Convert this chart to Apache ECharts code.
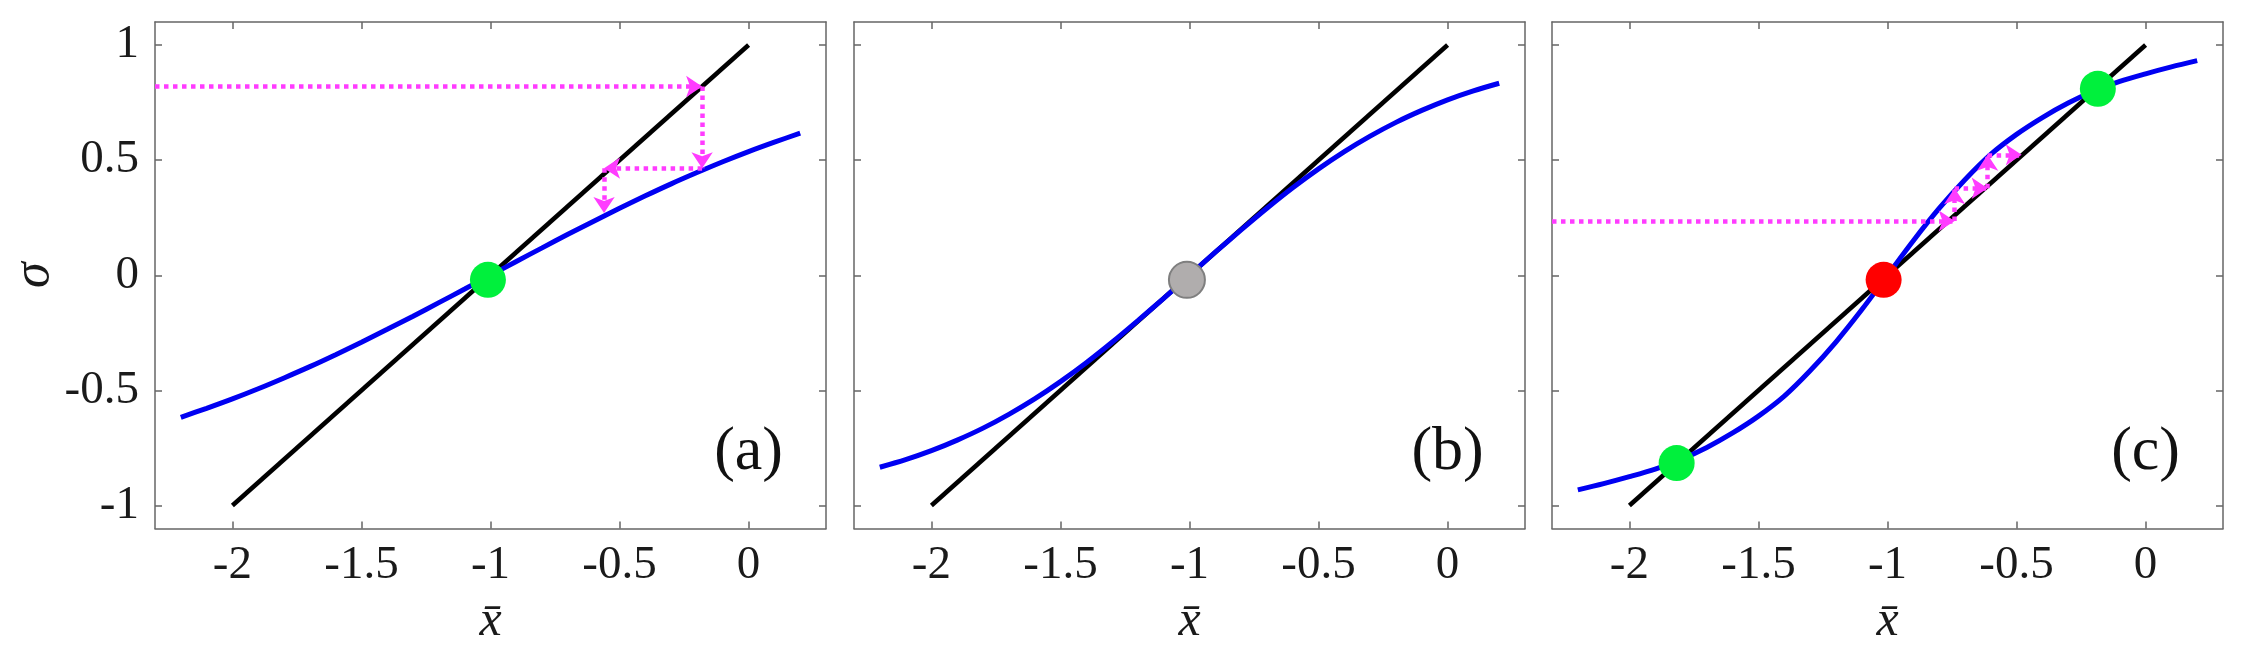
<!DOCTYPE html>
<html>
<head>
<meta charset="utf-8">
<script src="https://cdn.jsdelivr.net/npm/echarts@6/dist/echarts.min.js"></script>
<style>
html, body { margin: 0; padding: 0; background: #fff; }
#chart { width: 2250px; height: 666px; }
</style>
</head>
<body>
<div id="chart"></div>
<script>
// x-bar samples shared by the three sigmoid curves
const xBar = [-2.2, -2.1, -2.0, -1.9, -1.8, -1.7, -1.6, -1.5, -1.4, -1.3, -1.2, -1.1, -1.0,
  -0.9, -0.8, -0.7, -0.6, -0.5, -0.4, -0.3, -0.2, -0.1, 0.0, 0.1, 0.2];
// sigma, panels (a) (b) (c)
const sigmaA = [-0.617, -0.578, -0.537, -0.493, -0.446, -0.397, -0.345, -0.291, -0.235, -0.178, -0.119, -0.060, 0,
  0.060, 0.119, 0.178, 0.235, 0.291, 0.345, 0.397, 0.446, 0.493, 0.537, 0.578, 0.617];
const sigmaB = [-0.834, -0.801, -0.762, -0.716, -0.664, -0.604, -0.537, -0.462, -0.380, -0.291, -0.197, -0.100, 0,
  0.100, 0.197, 0.291, 0.380, 0.462, 0.537, 0.604, 0.664, 0.716, 0.762, 0.801, 0.834];
const sigmaC = [-0.932, -0.905, -0.875, -0.842, -0.800, -0.748, -0.685, -0.612, -0.525, -0.415, -0.290, -0.150, 0,
  0.150, 0.290, 0.415, 0.525, 0.612, 0.685, 0.748, 0.800, 0.842, 0.875, 0.905, 0.932];
// the diagonal sigma = x + 1
const diagX = [-2, 0];
const diagY = [-1, 1];

const xTicks = [-2, -1.5, -1, -0.5, 0];
const yTicks = [-1, -0.5, 0, 0.5, 1];
const panelNames = ['(a)', '(b)', '(c)'];

// fixed points [x, sigma]
const stableA = [[-1.01, -0.02]];
const marginalB = [[-1.01, -0.02]];
const stableC = [[-1.817, -0.816], [-0.185, 0.81]];
const unstableC = [[-1.015, -0.02]];

// cobweb iterations (corners of the dotted path)
const cobwebA = [[-2.3, 0.82], [-0.18, 0.82], [-0.18, 0.465], [-0.56, 0.465], [-0.56, 0.27]];
const cobwebC = [[-2.3, 0.236], [-0.74, 0.236], [-0.74, 0.378], [-0.612, 0.378], [-0.612, 0.523], [-0.48, 0.523]];

const serif = "'Liberation Serif', serif";
const axisColor = '#666';
const gridLeft = [155, 854, 1552];

function xAxisFor(i, pos) {
  return {
    type: 'value', gridIndex: i, position: pos, min: -2.3, max: 0.3,
    axisLine: { show: true, onZero: false, lineStyle: { color: axisColor, width: 1.5 } },
    axisTick: { show: true, inside: true, length: 7, customValues: xTicks, lineStyle: { color: axisColor, width: 1.5 } },
    axisLabel: { show: pos === 'bottom', customValues: xTicks, margin: 14,
      fontFamily: serif, fontSize: 47, color: '#1a1a1a' },
    splitLine: { show: false },
    name: pos === 'bottom' ? 'x\u0304' : '',
    nameLocation: 'middle', nameGap: 68,
    nameTextStyle: { fontFamily: serif, fontStyle: 'italic', fontSize: 50, color: '#1a1a1a' }
  };
}

function yAxisFor(i, pos) {
  const labelled = (i === 0 && pos === 'left');
  return {
    type: 'value', gridIndex: i, position: pos, min: -1.1, max: 1.1,
    axisLine: { show: true, onZero: false, lineStyle: { color: axisColor, width: 1.5 } },
    axisTick: { show: true, inside: true, length: 7, customValues: yTicks, lineStyle: { color: axisColor, width: 1.5 } },
    axisLabel: { show: labelled, customValues: yTicks, margin: 16,
      fontFamily: serif, fontSize: 47, color: '#1a1a1a' },
    splitLine: { show: false },
    name: labelled ? '\u03c3' : '',
    nameLocation: 'middle', nameGap: 93,
    nameTextStyle: { fontFamily: serif, fontStyle: 'italic', fontSize: 52, color: '#1a1a1a' }
  };
}

function pairs(xs, ys) {
  return xs.map((x, k) => [x, ys[k]]);
}

function segments(path) {
  const out = [];
  for (let k = 0; k < path.length - 1; k++) {
    out.push({ coords: [path[k], path[k + 1]] });
  }
  return out;
}

const grids = [], xAxes = [], yAxes = [], series = [];
const curves = [sigmaA, sigmaB, sigmaC];

for (let i = 0; i < 3; i++) {
  grids.push({ left: gridLeft[i], top: 22, width: 671, height: 506.5 });
  xAxes.push(xAxisFor(i, 'bottom'), xAxisFor(i, 'top'));
  yAxes.push(yAxisFor(i, 'left'), yAxisFor(i, 'right'));

  series.push({
    type: 'line', xAxisIndex: 2 * i, yAxisIndex: 2 * i,
    data: pairs(diagX, diagY), showSymbol: false, silent: true,
    lineStyle: { color: '#000', width: 4.5 }, z: 2
  });
  series.push({
    type: 'line', xAxisIndex: 2 * i, yAxisIndex: 2 * i,
    data: pairs(xBar, curves[i]), showSymbol: false, smooth: 0.3, silent: true,
    lineStyle: { color: '#0000f2', width: 5 }, z: 3
  });
}

function cobwebSeries(i, path) {
  return {
    type: 'lines', coordinateSystem: 'cartesian2d', xAxisIndex: 2 * i, yAxisIndex: 2 * i,
    symbol: ['none', 'arrow'], symbolSize: 16, silent: true,
    lineStyle: { color: '#ff3cff', width: 4.5, type: [4.5, 4.5], opacity: 1, curveness: 0 },
    data: segments(path), z: 4
  };
}
series.push(cobwebSeries(0, cobwebA));
series.push(cobwebSeries(2, cobwebC));

function dotSeries(i, data, fill, border) {
  return {
    type: 'scatter', xAxisIndex: 2 * i, yAxisIndex: 2 * i, data: data,
    symbolSize: 36, silent: true,
    itemStyle: { color: fill, borderColor: border || fill, borderWidth: border ? 2 : 0, opacity: 1 },
    z: 6
  };
}
series.push(dotSeries(0, stableA, '#00f03c'));
series.push(dotSeries(1, marginalB, '#b0adad', '#7f7f7f'));
series.push(dotSeries(2, stableC, '#00f03c'));
series.push(dotSeries(2, unstableC, '#ff0000'));

const chart = echarts.init(document.getElementById('chart'), null, { renderer: 'canvas' });
chart.setOption({
  backgroundColor: '#fff',
  animation: false,
  grid: grids,
  xAxis: xAxes,
  yAxis: yAxes,
  series: series
});

// panel tags sit at the bottom right of each box
const tags = panelNames.map((name, i) => {
  const p = chart.convertToPixel({ xAxisIndex: 2 * i, yAxisIndex: 2 * i }, [0, -0.77]);
  return {
    type: 'text', x: p[0], y: p[1],
    style: { text: name, fontFamily: serif, fontSize: 62, fill: '#111',
      align: 'center', verticalAlign: 'middle' }
  };
});
chart.setOption({ graphic: tags });
</script>
</body>
</html>
